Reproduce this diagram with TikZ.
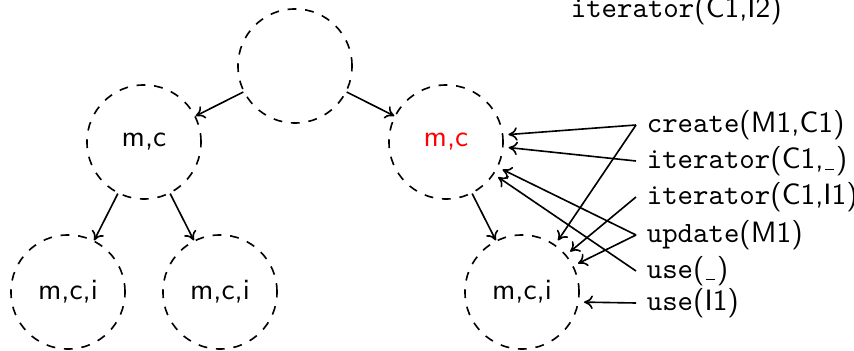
\documentclass[tikz,border=0pt]{standalone}
\usetikzlibrary{arrows.meta}
\newcommand{\blank}{\kern.06em\rule[-0.6pt]{0.3em}{0.5pt}\kern.06em}
\begin{document}
\begin{tikzpicture}[x=0.34pt,y=-0.34pt,font=\sffamily,line width=0.55pt,
  >={To[length=3pt,width=4.6pt]},
  state/.style={circle,draw,dashed,minimum size=38.8pt,inner sep=0pt},
  call/.style={anchor=west,inner sep=3.4pt},
  edge/.style={->},
  link/.style={->,shorten >=1.7pt}]
\useasboundingbox (0,0) rectangle (854,351);

% states of the tree
\node[state] (r)  at (295,66)  {};
\node[state] (a)  at (144,142) {m,c};
\node[state] (b)  at (446,142) {\textcolor{red}{m,c}};
\node[state] (a1) at (68,292)  {m,c,i};
\node[state] (a2) at (220,292) {m,c,i};
\node[state] (b1) at (522,292) {m,c,i};

\draw[edge] (r) -- (a);
\draw[edge] (r) -- (b);
\draw[edge] (a) -- (a1);
\draw[edge] (a) -- (a2);
\draw[edge] (b) -- (b1);

% method calls
\node[call] (c0) at (560,10)  {\texttt{iterator}(C1,I2)};
\node[call] (c1) at (636,125) {\texttt{create}(M1,C1)};
\node[call] (c2) at (636,161) {\texttt{iterator}(C1,\blank)};
\node[call] (c3) at (636,197) {\texttt{iterator}(C1,I1)};
\node[call] (c4) at (636,235) {\texttt{update}(M1)};
\node[call] (c5) at (636,271) {\texttt{use}(\blank)};
\node[call] (c6) at (636,303) {\texttt{use}(I1)};

\draw[link] (c1.west) -- (b.7.5);
\draw[link] (c1.west) -- (b1.55);
\draw[link] (c2.west) -- (b.-5.6);
\draw[link] (c3.west) -- (b1.40);
\draw[link] (c4.west) -- (b.-26.7);
\draw[link] (c4.west) -- (b1.27);
\draw[link] (c5.west) -- (b.-34.7);
\draw[link] (c6.west) -- (b1.-10.7);
\end{tikzpicture}
\end{document}
